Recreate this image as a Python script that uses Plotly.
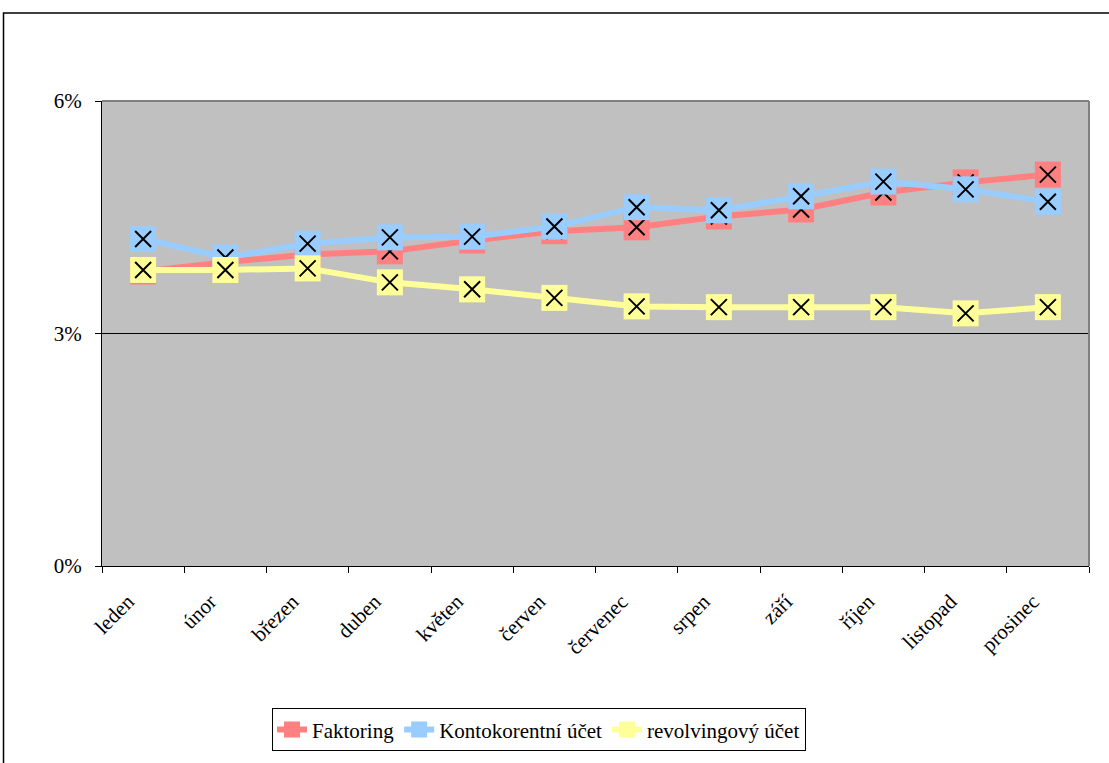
import plotly.graph_objects as go

months = ["leden", "únor", "březen", "duben", "květen", "červen",
          "červenec", "srpen", "září", "říjen", "listopad", "prosinec"]
faktoring = [3.80, 3.92, 4.02, 4.06, 4.20, 4.32, 4.37, 4.51, 4.60, 4.82, 4.95, 5.05]
kontokorent = [4.22, 3.98, 4.16, 4.24, 4.25, 4.38, 4.63, 4.59, 4.77, 4.96, 4.86, 4.70]
revolving = [3.82, 3.82, 3.84, 3.66, 3.57, 3.46, 3.35, 3.34, 3.34, 3.34, 3.26, 3.34]
y_ticks = [0, 3, 6]
y_tick_labels = ["0%", "3%", "6%"]

series = [
    ("Faktoring", faktoring, "#FF8080"),
    ("Kontokorentní účet", kontokorent, "#99CCFF"),
    ("revolvingový účet", revolving, "#FFFF99"),
]

FONT = "Liberation Serif, Times New Roman, DejaVu Serif, serif"
fig = go.Figure()
for name, vals, col in series:
    fig.add_trace(go.Scatter(
        x=months, y=vals, name=name, mode="lines+markers",
        line=dict(color=col, width=6),
        marker=dict(symbol="square", size=26, color=col, line=dict(width=0)),
        legendgroup=name,
    ))
    fig.add_trace(go.Scatter(
        x=months, y=vals, name=name, mode="markers", showlegend=False,
        marker=dict(symbol="x-thin-open", size=16, color="black",
                    line=dict(color="black", width=2)),
        legendgroup=name, hoverinfo="skip",
    ))

W, H = 1109, 763
L, R, T, B = 102, 1089, 101, 568
pw, ph = R - L, B - T

def px_x(x):
    return (x - L) / pw

def px_y(y):
    return (B - y) / ph

fig.update_layout(
    width=W, height=H,
    margin=dict(l=L, r=W - R, t=T, b=H - B),
    paper_bgcolor="white", plot_bgcolor="#C0C0C0",
    font=dict(family=FONT, size=21, color="black"),
    showlegend=True,
    legend=dict(
        orientation="h", x=px_x(539), xanchor="center", y=px_y(711), yanchor="top",
        bordercolor="black", borderwidth=1, bgcolor="white",
        font=dict(family=FONT, size=21), itemwidth=30,
        tracegroupgap=0,
    ),
    xaxis=dict(
        type="category", tickangle=-45, showgrid=False, showline=True,
        range=[-0.5, 11.5], autorange=False,
        linecolor="black", linewidth=1, ticks="outside", ticklen=6,
        tickcolor="black", tickson="boundaries", mirror=False,
        tickfont=dict(family=FONT, size=21), zeroline=False,
        ticklabelstandoff=14, ticklabelshift=-15,
    ),
    yaxis=dict(
        range=[0, 6], tickvals=y_ticks, ticktext=y_tick_labels,
        showgrid=True, gridcolor="black", gridwidth=1,
        showline=True, linecolor="black", linewidth=1,
        ticks="outside", ticklen=6, tickcolor="black",
        tickfont=dict(family=FONT, size=21), zeroline=False,
        ticklabelstandoff=9,
    ),
    shapes=[
        dict(type="line", xref="paper", yref="paper", x0=0, x1=1, y0=1, y1=1,
             line=dict(color="#808080", width=2), layer="above"),
        dict(type="line", xref="paper", yref="paper", x0=1, x1=1, y0=0, y1=1,
             line=dict(color="#808080", width=2), layer="above"),
        dict(type="rect", xref="paper", yref="paper",
             x0=px_x(3.5), x1=px_x(1130), y0=px_y(12.5), y1=px_y(800),
             line=dict(color="black", width=1.5), fillcolor="rgba(0,0,0,0)",
             layer="above"),
    ],
)

fig.write_html("out.html")
